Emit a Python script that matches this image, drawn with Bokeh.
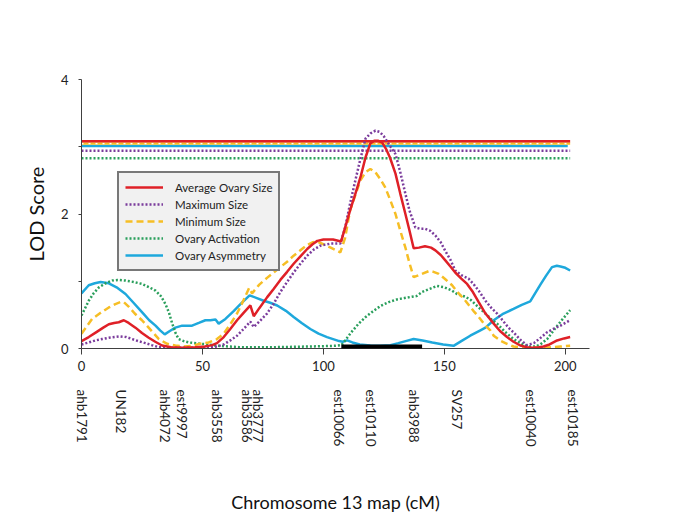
import math
from bokeh.plotting import figure
from bokeh.models import Range1d, FixedTicker, BoxAnnotation, LinearAxis
from bokeh.embed import file_html
from bokeh.resources import INLINE

FONT = "Lato"

# ---- data ----
avg_cm = [0, 3, 6, 9, 11.3, 13.5, 15.4, 17.5, 19.5, 22.3, 25, 27.8, 30.5, 33.3, 37, 42, 47, 51, 54, 56,
          58.8, 61.5, 64.3, 67, 69.8, 71.2, 73.5, 76.7, 79.5, 82.2, 85, 87.7, 90.5, 93.3, 95.5, 97.5, 100, 104,
          107.3, 109, 111, 113.2, 115.5, 117.4, 119.4, 121, 122.5, 124.3, 126, 127.5, 129.8, 131.8, 133.9,
          135.6, 137.3, 139.5, 142, 144.5, 146.3, 148.5, 150.4, 152.5, 154.5, 157, 159.4, 161.8, 164.2, 167,
          170.4, 173, 175.9, 178.6, 181.4, 184, 186.5, 189, 191, 193.5, 196.6, 199.5, 202]
avg_lod = [0.11, 0.17, 0.24, 0.31, 0.36, 0.38, 0.39, 0.42, 0.38, 0.31, 0.23, 0.16, 0.10, 0.045, 0.02, 0.01,
           0.02, 0.03, 0.05, 0.08, 0.17, 0.29, 0.42, 0.53, 0.64, 0.48, 0.60, 0.76, 0.89, 1.02, 1.14, 1.26,
           1.37, 1.48, 1.55, 1.60, 1.62, 1.62, 1.59, 1.80, 2.05, 2.30, 2.57, 2.84, 3.05, 3.09, 3.09, 3.06,
           2.96, 2.84, 2.60, 2.30, 2.00, 1.75, 1.49, 1.50, 1.52, 1.50, 1.46, 1.39, 1.31, 1.22, 1.13, 1.04,
           0.96, 0.84, 0.69, 0.52, 0.37, 0.26, 0.17, 0.10, 0.045, 0.02, 0.01, 0.02, 0.03, 0.06, 0.12, 0.15, 0.17]

max_cm = [0, 3, 5.8, 8.5, 11.3, 16.1, 18.5, 21, 23.5, 26.4, 29, 32, 36, 42, 48, 53, 56, 58.8, 61.5, 64.3,
          67, 69.8, 71.2, 73.5, 76.7, 79.5, 82.2, 85, 87.7, 90.5, 93.3, 96, 98.8, 103, 107, 109, 111, 113.2,
          115.3, 117.4, 119.5, 121.5, 123.3, 124.9, 127, 129.8, 131.8, 133.9, 135.6, 138, 140, 142, 144.2,
          146.3, 148.5, 150.4, 152.5, 154.5, 157, 160, 162, 164.2, 167, 169.5, 171.8, 174.5, 176.5, 178.6,
          181.4, 184.2, 187, 189.5, 192.4, 195, 198, 200, 202]
max_lod = [0.06, 0.09, 0.12, 0.14, 0.16, 0.18, 0.17, 0.14, 0.11, 0.08, 0.05, 0.02, 0.01, 0.01, 0.01, 0.02,
           0.03, 0.06, 0.12, 0.19, 0.29, 0.40, 0.32, 0.40, 0.52, 0.67, 0.84, 0.99, 1.13, 1.26, 1.38, 1.47,
           1.53, 1.56, 1.56, 1.80, 2.15, 2.50, 2.82, 3.12, 3.20, 3.24, 3.22, 3.16, 3.04, 2.89, 2.62, 2.30,
           2.05, 1.80, 1.78, 1.78, 1.75, 1.68, 1.58, 1.45, 1.32, 1.16, 1.09, 1.04, 0.96, 0.86, 0.71, 0.60,
           0.52, 0.40, 0.31, 0.24, 0.13, 0.05, 0.08, 0.15, 0.24, 0.29, 0.34, 0.38, 0.42]

min_cm = [0, 2, 4.4, 7.9, 11.3, 14, 16.1, 17.5, 19.6, 22, 25, 28.5, 32, 35.4, 38.8, 42.3, 45.7, 49, 52.6, 56,
          58.8, 61.5, 64.3, 67, 69.3, 70.5, 73.5, 76.7, 79.5, 82.2, 85, 87.7, 90.5, 93.3, 95.5, 97.4, 100, 103,
          107, 109, 111, 113.2, 115.3, 117.4, 119.4, 121.5, 123.5, 125.5, 127.5, 129.8, 131.8, 133.9, 135.5,
          137.3, 140, 143.5, 145.5, 147.7, 150.4, 153.2, 155.2, 158.7, 162, 164.2, 167, 169, 170.4, 173, 175.9,
          178.6, 182.8, 187, 191, 195, 198, 202]
min_lod = [0.22, 0.32, 0.44, 0.53, 0.61, 0.66, 0.69, 0.69, 0.62, 0.52, 0.42, 0.28, 0.14, 0.07, 0.045, 0.03,
           0.04, 0.07, 0.09, 0.14, 0.22, 0.36, 0.52, 0.72, 0.90, 0.82, 0.95, 1.05, 1.13, 1.21, 1.29, 1.38,
           1.46, 1.54, 1.58, 1.59, 1.55, 1.50, 1.43, 1.65, 2.05, 2.28, 2.50, 2.62, 2.67, 2.62, 2.52, 2.40,
           2.22, 2.00, 1.75, 1.50, 1.28, 1.06, 1.10, 1.15, 1.14, 1.11, 1.03, 0.94, 0.85, 0.71, 0.56, 0.47,
           0.34, 0.27, 0.19, 0.12, 0.07, 0.03, 0.01, 0.01, 0.01, 0.02, 0.03, 0.04]

act_cm = [0, 3, 5, 7.2, 10, 12.7, 15, 18.2, 21.5, 25, 28, 30.6, 32.8, 34.7, 36.2, 37.5, 39, 40.2, 42.3, 44.3,
          49, 52.6, 56, 65, 80, 95, 105, 107.5, 109, 111.5, 114.6, 117.5, 120, 123.5, 127, 130.4, 133.5,
          136.6, 138.5, 140.8, 143.5, 147, 150, 153.2, 155.2, 158.7, 161, 164.2, 167, 169.5, 171.8, 175,
          178.6, 182, 185.5, 187.5, 189.7, 192.5, 195.2, 198.5, 202]
act_lod = [0.49, 0.71, 0.82, 0.91, 0.97, 1.01, 1.02, 1.01, 0.99, 0.96, 0.91, 0.86, 0.78, 0.66, 0.53, 0.37,
           0.22, 0.14, 0.11, 0.09, 0.07, 0.06, 0.04, 0.02, 0.02, 0.03, 0.04, 0.05, 0.12, 0.24, 0.37, 0.47,
           0.54, 0.63, 0.69, 0.73, 0.75, 0.77, 0.78, 0.84, 0.88, 0.93, 0.91, 0.86, 0.81, 0.77, 0.72, 0.61,
           0.52, 0.43, 0.37, 0.25, 0.14, 0.07, 0.03, 0.03, 0.06, 0.14, 0.27, 0.42, 0.57]

asym_cm = [0, 3, 5.5, 7.9, 11.3, 14.5, 18.2, 21.5, 25, 28, 30.6, 32.5, 34.4, 36.5, 38.8, 41.6, 45.7, 48.5,
           51.2, 53.3, 55.4, 56.7, 59.5, 63, 66, 69.5, 72.5, 75.3, 78, 80.9, 84.5, 87.7, 91, 94.6, 98, 101.5,
           104, 106.5, 108, 109.8, 112, 115, 119.4, 123.5, 127.7, 131, 134, 137.3, 141, 145, 149.5, 153.8,
           157, 160.7, 164.9, 167, 170.4, 174, 178.6, 182, 185.5, 187.5, 189.7, 192, 194.5, 196.5, 198, 200, 202]
asym_lod = [0.82, 0.94, 0.97, 0.99, 0.97, 0.91, 0.81, 0.68, 0.54, 0.42, 0.34, 0.27, 0.21, 0.26, 0.31, 0.34,
            0.34, 0.38, 0.42, 0.42, 0.43, 0.37, 0.44, 0.56, 0.67, 0.79, 0.75, 0.71, 0.68, 0.64, 0.56, 0.47,
            0.38, 0.29, 0.22, 0.17, 0.14, 0.11, 0.10, 0.12, 0.09, 0.06, 0.045, 0.04, 0.05, 0.08, 0.11, 0.14,
            0.12, 0.09, 0.06, 0.04, 0.11, 0.19, 0.27, 0.31, 0.42, 0.51, 0.59, 0.65, 0.70, 0.82, 0.95, 1.08,
            1.21, 1.23, 1.22, 1.20, 1.16]

# significance thresholds
thr_names = ["Ovary Activation", "Maximum Size", "Ovary Asymmetry", "Minimum Size", "Average Ovary Size"]
thr_values = [2.83, 2.94, 3.01, 3.05, 3.08]
thr_end = [202, 202, 201, 202, 202]

# markers
marker_names = ["ahb1791", "UN182", "ahb4072", "est9997", "ahb3558", "ahb3586", "ahb3777",
                "est10066", "est10110", "ahb3988", "SV257", "est10040", "est10185"]
marker_cm = [0, 16.5, 34.6, 41.7, 56, 68.6, 73.0, 106.6, 119.6, 137.6, 155.4, 186, 203]

# confidence interval bar
ci_start, ci_end = 107.4, 140.8

x_ticks = [0, 50, 100, 150, 200]

# ---- styles ----
RED = "#df2027"
PURPLE = "#7b3c9c"
YELLOW = "#f6be25"
GREEN = "#2a9f5c"
CYAN = "#1ea8dc"
AXIS = "#404040"
TXT = "#222222"

p = figure(frame_width=508, frame_height=269,
           x_range=Range1d(0, 210), y_range=Range1d(0, 4),
           output_backend="svg", toolbar_location=None,
           min_border_left=81, min_border_right=88, min_border_top=79, min_border_bottom=162)
p.outline_line_color = None
p.xgrid.visible = False
p.ygrid.visible = False
p.background_fill_color = "white"
p.border_fill_color = "white"

# thresholds
thr_styles = {
    "Ovary Activation": dict(color=GREEN, line_dash="2 2"),
    "Maximum Size": dict(color=PURPLE, line_dash="2 2"),
    "Ovary Asymmetry": dict(color=CYAN, line_dash="solid"),
    "Minimum Size": dict(color=YELLOW, line_dash="solid"),
    "Average Ovary Size": dict(color=RED, line_dash="solid"),
}
for name, v, e in zip(thr_names, thr_values, thr_end):
    st = thr_styles[name]
    p.line([0, e], [v, v], line_color=st["color"], line_width=2.5, line_dash=st["line_dash"])
    if name == "Minimum Size":
        p.line([0, e], [v, v], line_color="white", line_width=1.5, line_dash="2 5")

# curves
p.line(asym_cm, asym_lod, line_color=CYAN, line_width=2.5, legend_label="Ovary Asymmetry")
p.line(act_cm, act_lod, line_color=GREEN, line_width=2.5, line_dash="2 2", legend_label="Ovary Activation")
p.line(min_cm, min_lod, line_color=YELLOW, line_width=2.5, line_dash="7 4", legend_label="Minimum Size")
p.line(max_cm, max_lod, line_color=PURPLE, line_width=2.5, line_dash="2 2", legend_label="Maximum Size")
p.line(avg_cm, avg_lod, line_color=RED, line_width=2.5, legend_label="Average Ovary Size")

# reorder legend items to match reference
items = p.legend[0].items
order = ["Average Ovary Size", "Maximum Size", "Minimum Size", "Ovary Activation", "Ovary Asymmetry"]
p.legend[0].items = sorted(items, key=lambda it: order.index(it.label.value))

lg = p.legend[0]
lg.location = (36, 77)
lg.border_line_color = "black"
lg.border_line_width = 2
lg.background_fill_color = "#f1f1f1"
lg.background_fill_alpha = 1
lg.label_text_font = FONT
lg.label_text_font_size = "11.5px"
lg.label_text_color = TXT
lg.glyph_width = 38
lg.glyph_height = 16
lg.label_height = 16
lg.spacing = 1
lg.padding = 6
lg.label_standoff = 12
lg.margin = 0

# confidence bar
p.add_layout(BoxAnnotation(left=ci_start, right=ci_end, bottom=-0.05, top=0.06,
                           fill_color="black", fill_alpha=1, line_alpha=0, level="overlay"))

# numeric x axis
xa = p.xaxis[0]
xa.ticker = FixedTicker(ticks=x_ticks)
xa.axis_line_color = AXIS
xa.major_tick_line_color = AXIS
xa.major_tick_out = 6
xa.major_tick_in = 0
xa.minor_tick_line_color = None
xa.major_label_standoff = 6
xa.major_label_text_font = FONT
xa.major_label_text_font_size = "13px"
xa.major_label_text_color = TXT

# marker axis (second axis below)
ma = LinearAxis(ticker=FixedTicker(ticks=marker_cm),
                major_label_overrides={c: n for c, n in zip(marker_cm, marker_names)},
                major_label_orientation=-math.pi / 2)
ma.axis_line_color = None
ma.major_tick_line_color = None
ma.minor_tick_line_color = None
ma.major_tick_out = 0
ma.major_tick_in = 0
ma.major_label_standoff = 16
ma.major_label_text_font = FONT
ma.major_label_text_font_size = "13.5px"
ma.major_label_text_color = TXT
ma.axis_label = "Chromosome 13 map (cM)"
ma.axis_label_text_font = FONT
ma.axis_label_text_font_size = "18px"
ma.axis_label_text_font_style = "normal"
ma.axis_label_text_color = "#111111"
ma.axis_label_standoff = 42
p.add_layout(ma, "below")

ya = p.yaxis[0]
ya.ticker = FixedTicker(ticks=[0, 2, 4], minor_ticks=[1, 3])
ya.axis_line_color = AXIS
ya.major_tick_line_color = AXIS
ya.minor_tick_line_color = AXIS
ya.major_tick_out = 3
ya.major_tick_in = 0
ya.minor_tick_out = 3
ya.minor_tick_in = 0
ya.major_label_standoff = 10
ya.major_label_text_font = FONT
ya.major_label_text_font_size = "13px"
ya.major_label_text_color = TXT
ya.axis_label = "LOD Score"
ya.axis_label_text_font = FONT
ya.axis_label_text_font_size = "20px"
ya.axis_label_text_font_style = "normal"
ya.axis_label_text_color = "#111111"
ya.axis_label_standoff = 10

open("out.html", "w").write(file_html(p, INLINE))
